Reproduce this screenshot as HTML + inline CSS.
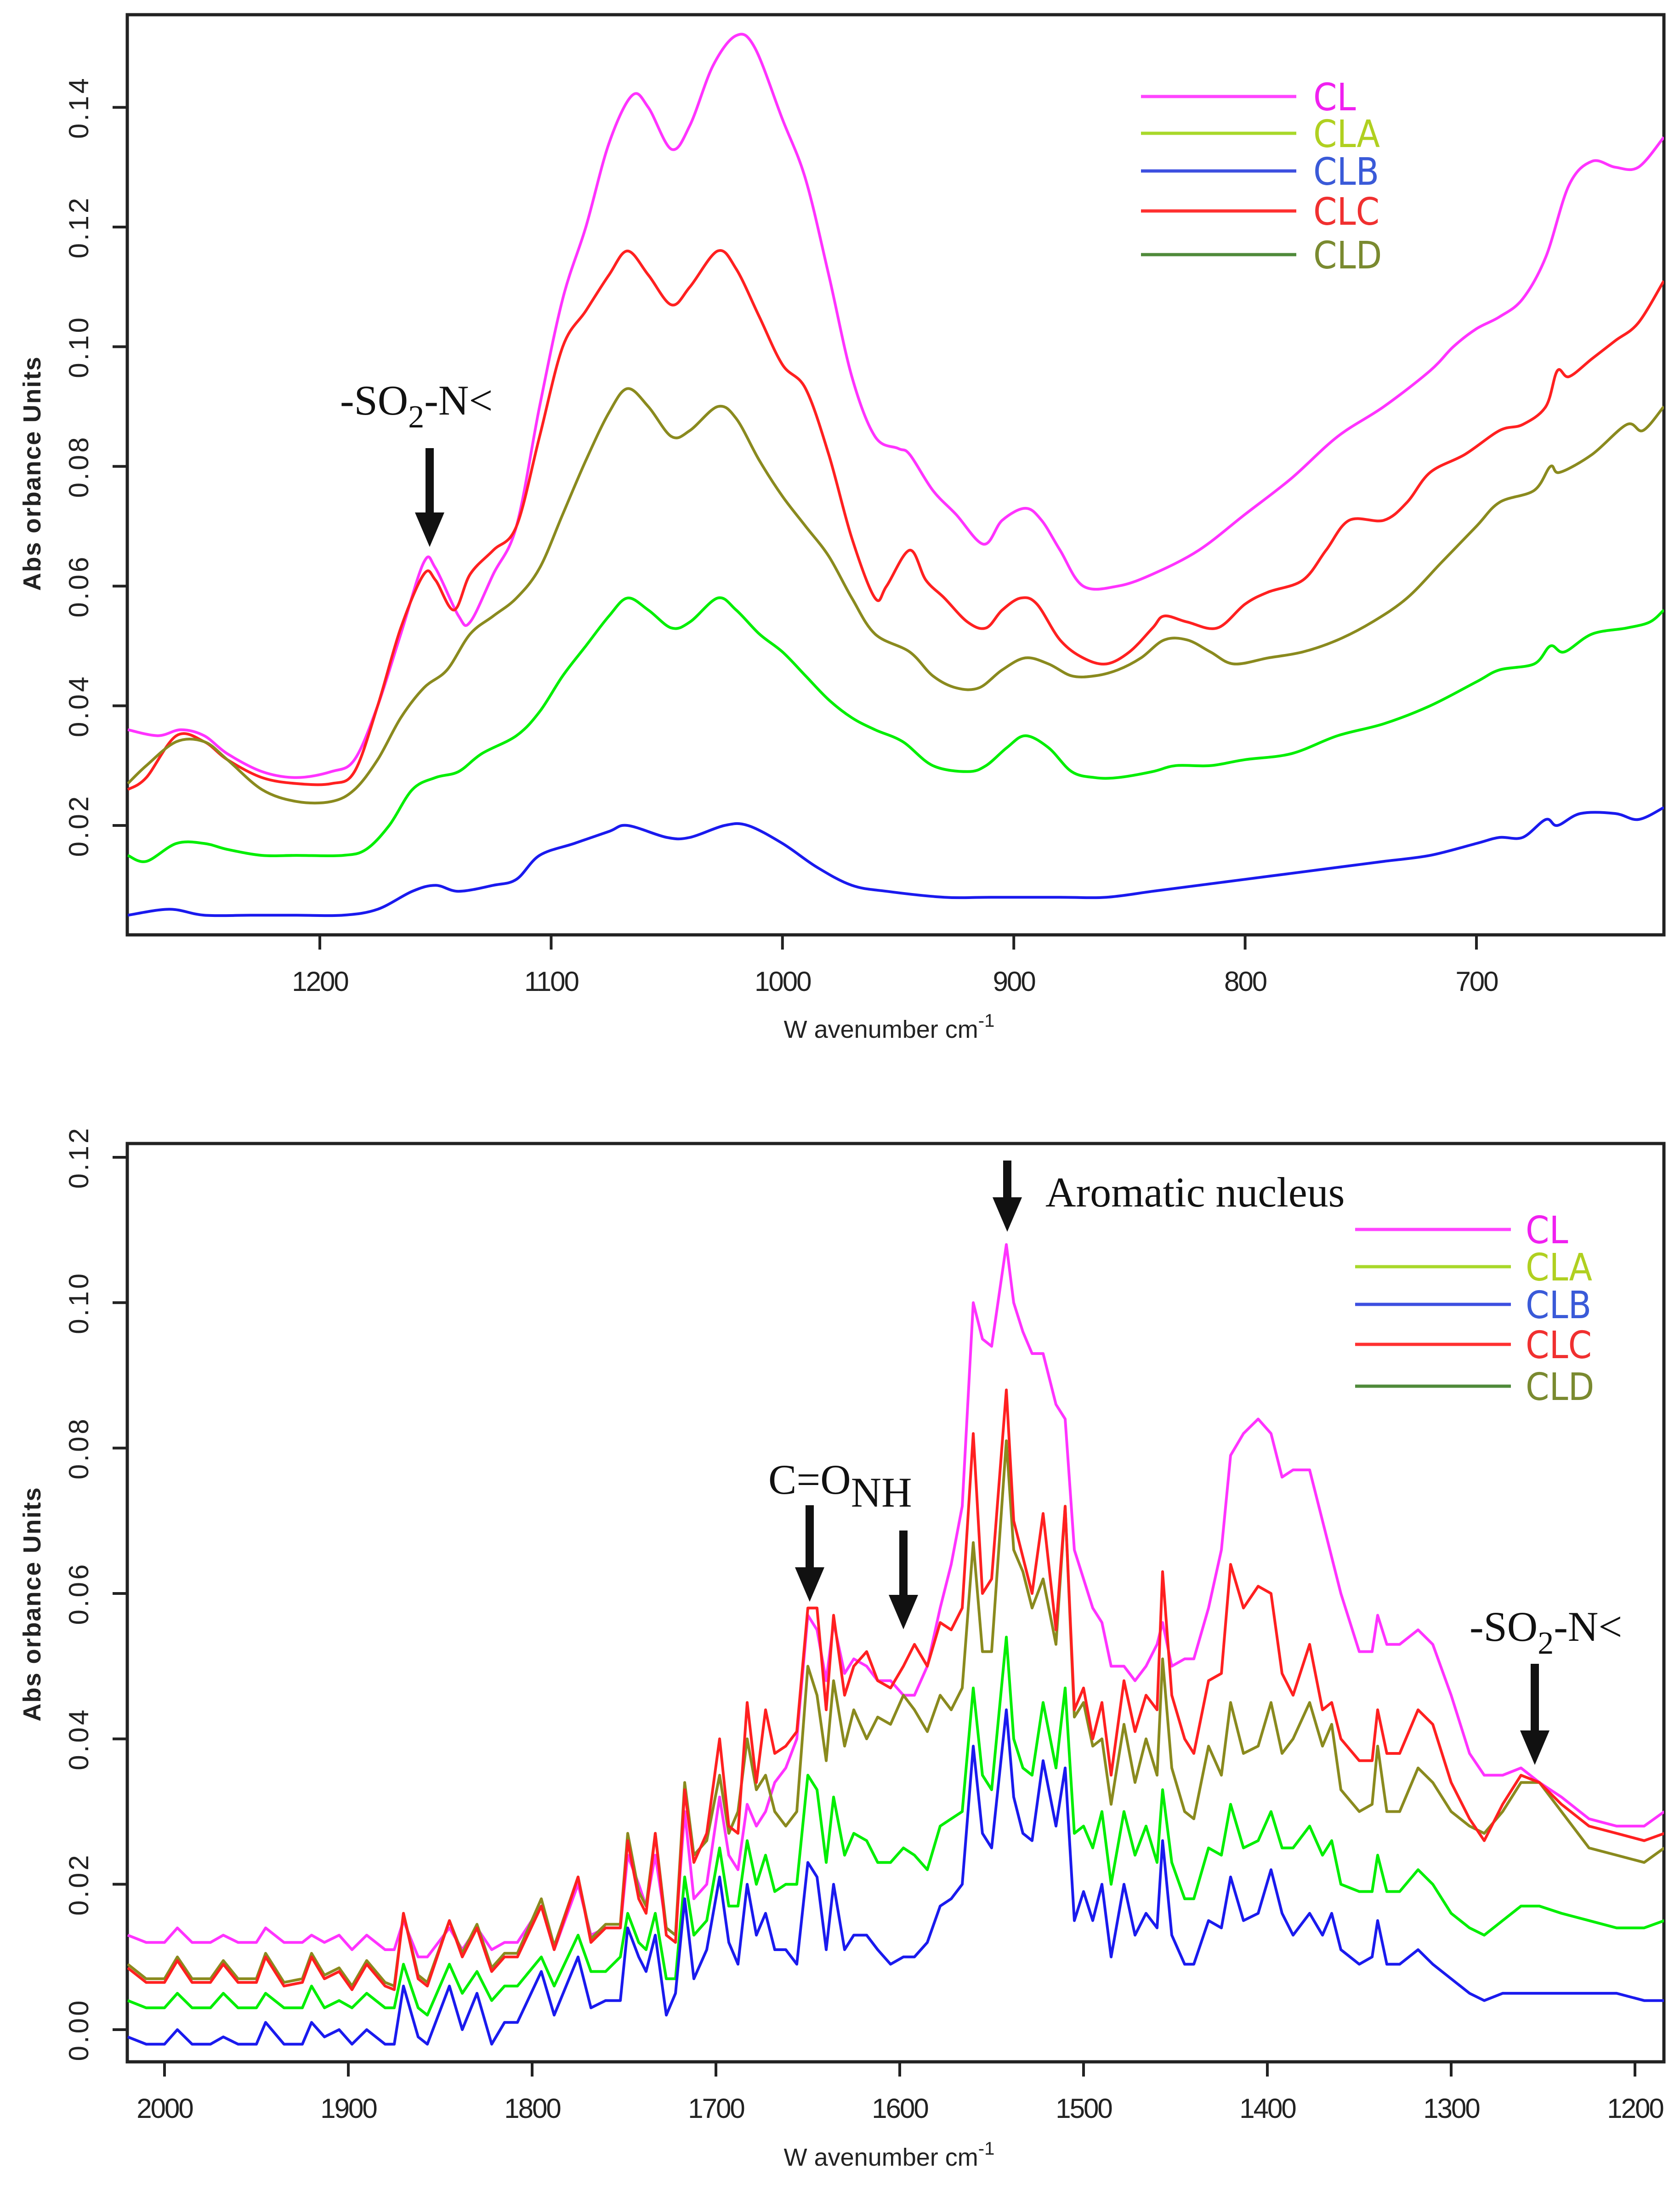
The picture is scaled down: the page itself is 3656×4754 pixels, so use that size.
<!DOCTYPE html>
<html><head><meta charset="utf-8"><title>FTIR spectra</title>
<style>
html,body{margin:0;padding:0;background:#fff;}
svg{display:block;}
.tick{font-family:"Liberation Sans",sans-serif;font-size:60px;fill:#222;}
.ttl{font-family:"Liberation Sans",sans-serif;font-size:54px;fill:#222;}
.leg{font-family:"DejaVu Sans Condensed","DejaVu Sans",sans-serif;font-size:82px;}
.ann{font-family:"Liberation Serif",serif;font-size:92px;fill:#111;}
</style></head>
<body>
<svg id="fig" width="3656" height="4754" viewBox="0 0 3656 4754" xmlns="http://www.w3.org/2000/svg">
<defs>
<clipPath id="clipTop"><rect x="277" y="32" width="3344" height="2002"/></clipPath>
<clipPath id="clipBot"><rect x="277" y="2488" width="3344" height="1998"/></clipPath>
</defs>
<g id="top"></g>
<g id="bot"></g>
</svg>
<script>
// ---------- TOP CHART DATA ----------
const topXTicks = [1200,1100,1000,900,800,700];
const topYTicks = [0.02,0.04,0.06,0.08,0.10,0.12,0.14];
const topYLabels = ["0.02","0.04","0.06","0.08","0.10","0.12","0.14"];
const topCLw = [1283,1270,1260,1250,1240,1225,1210,1195,1185,1175,1165,1155,1150,1140,1135,1125,1115,1105,1095,1085,1075,1065,1058,1048,1040,1030,1020,1012,1000,990,980,970,960,950,945,935,925,913,905,895,888,880,870,855,840,820,800,780,760,740,720,710,700,690,680,670,660,650,640,630,619];
const topCLv = [0.036,0.035,0.036,0.035,0.032,0.029,0.028,0.029,0.031,0.040,0.052,0.064,0.063,0.055,0.054,0.062,0.070,0.090,0.108,0.120,0.134,0.142,0.140,0.133,0.137,0.147,0.152,0.150,0.138,0.128,0.112,0.095,0.085,0.083,0.082,0.076,0.072,0.067,0.071,0.073,0.071,0.066,0.060,0.060,0.062,0.066,0.072,0.078,0.085,0.090,0.096,0.100,0.103,0.105,0.108,0.115,0.127,0.131,0.130,0.130,0.135];
const topCLCw = [1283,1275,1262,1250,1240,1225,1210,1195,1185,1175,1165,1155,1150,1142,1135,1125,1115,1105,1095,1085,1075,1067,1058,1048,1040,1028,1020,1010,1000,990,980,970,960,955,945,938,930,920,912,905,897,890,880,870,860,850,840,835,825,812,800,790,775,765,755,740,730,720,705,690,680,670,665,660,650,640,630,619];
const topCLCv = [0.026,0.028,0.035,0.034,0.031,0.028,0.027,0.027,0.029,0.040,0.053,0.062,0.061,0.056,0.062,0.066,0.070,0.085,0.100,0.106,0.112,0.116,0.112,0.107,0.110,0.116,0.113,0.105,0.097,0.093,0.082,0.068,0.058,0.060,0.066,0.061,0.058,0.054,0.053,0.056,0.058,0.057,0.051,0.048,0.047,0.049,0.053,0.055,0.054,0.053,0.057,0.059,0.061,0.066,0.071,0.071,0.074,0.079,0.082,0.086,0.087,0.090,0.096,0.095,0.098,0.101,0.104,0.111];
const topCLDw = [1283,1275,1262,1250,1240,1225,1210,1195,1185,1175,1165,1155,1145,1135,1125,1115,1105,1095,1085,1075,1067,1058,1048,1040,1028,1020,1010,1000,990,980,970,960,945,935,925,915,905,895,885,875,865,855,845,835,825,815,805,790,775,760,745,730,715,700,690,675,668,664,650,635,628,619];
const topCLDv = [0.027,0.030,0.034,0.034,0.031,0.026,0.024,0.024,0.026,0.031,0.038,0.043,0.046,0.052,0.055,0.058,0.063,0.072,0.081,0.089,0.093,0.090,0.085,0.086,0.090,0.088,0.081,0.075,0.070,0.065,0.058,0.052,0.049,0.045,0.043,0.043,0.046,0.048,0.047,0.045,0.045,0.046,0.048,0.051,0.051,0.049,0.047,0.048,0.049,0.051,0.054,0.058,0.064,0.070,0.074,0.076,0.080,0.079,0.082,0.087,0.086,0.090];
const topCLAw = [1283,1275,1262,1250,1240,1225,1210,1190,1180,1170,1160,1150,1140,1130,1115,1105,1095,1085,1075,1067,1058,1048,1040,1028,1020,1010,1000,990,980,970,960,948,935,920,912,903,895,885,875,865,855,840,830,815,800,780,760,740,720,700,690,675,668,662,650,635,625,619];
const topCLAv = [0.015,0.014,0.017,0.017,0.016,0.015,0.015,0.015,0.016,0.020,0.026,0.028,0.029,0.032,0.035,0.039,0.045,0.050,0.055,0.058,0.056,0.053,0.054,0.058,0.056,0.052,0.049,0.045,0.041,0.038,0.036,0.034,0.030,0.029,0.030,0.033,0.035,0.033,0.029,0.028,0.028,0.029,0.030,0.030,0.031,0.032,0.035,0.037,0.040,0.044,0.046,0.047,0.050,0.049,0.052,0.053,0.054,0.056];
const topCLBw = [1283,1265,1250,1230,1210,1190,1175,1160,1150,1140,1125,1115,1105,1090,1075,1067,1050,1040,1025,1015,1000,985,970,955,930,910,880,860,840,820,800,780,760,740,720,700,690,680,670,665,655,640,630,619];
const topCLBv = [0.005,0.006,0.005,0.005,0.005,0.005,0.006,0.009,0.010,0.009,0.010,0.011,0.015,0.017,0.019,0.020,0.018,0.018,0.020,0.020,0.017,0.013,0.010,0.009,0.008,0.008,0.008,0.008,0.009,0.010,0.011,0.012,0.013,0.014,0.015,0.017,0.018,0.018,0.021,0.020,0.022,0.022,0.021,0.023];

// ---------- BOTTOM CHART DATA ----------
const botXTicks = [2000,1900,1800,1700,1600,1500,1400,1300,1200];
const botYTicks = [0.00,0.02,0.04,0.06,0.08,0.10,0.12];
const botYLabels = ["0.00","0.02","0.04","0.06","0.08","0.10","0.12"];
const botW = [2020,2010,2000,1993,1985,1975,1968,1960,1950,1945,1935,1925,1920,1913,1905,1898,1890,1880,1875,1870,1862,1857,1845,1838,1830,1822,1815,1808,1795,1788,1775,1768,1760,1752,1748,1742,1738,1733,1727,1722,1717,1712,1705,1698,1693,1688,1683,1678,1673,1668,1662,1656,1650,1645,1640,1636,1630,1625,1618,1612,1605,1598,1592,1585,1578,1572,1566,1560,1555,1550,1542,1538,1533,1528,1522,1515,1510,1505,1500,1495,1490,1485,1478,1472,1466,1460,1457,1452,1445,1440,1432,1425,1420,1413,1405,1398,1392,1386,1377,1370,1365,1360,1350,1343,1340,1335,1328,1318,1310,1300,1290,1282,1272,1262,1252,1240,1225,1210,1195,1184];
const botCLv = [0.013,0.012,0.012,0.014,0.012,0.012,0.013,0.012,0.012,0.014,0.012,0.012,0.013,0.012,0.013,0.011,0.013,0.011,0.011,0.015,0.010,0.010,0.014,0.011,0.014,0.011,0.012,0.012,0.017,0.011,0.020,0.013,0.014,0.014,0.024,0.020,0.017,0.024,0.014,0.013,0.030,0.018,0.020,0.032,0.024,0.022,0.031,0.028,0.030,0.034,0.036,0.040,0.057,0.055,0.048,0.056,0.049,0.051,0.050,0.048,0.048,0.046,0.046,0.050,0.058,0.064,0.072,0.100,0.095,0.094,0.108,0.100,0.096,0.093,0.093,0.086,0.084,0.066,0.062,0.058,0.056,0.050,0.050,0.048,0.050,0.053,0.056,0.050,0.051,0.051,0.058,0.066,0.079,0.082,0.084,0.082,0.076,0.077,0.077,0.070,0.065,0.060,0.052,0.052,0.057,0.053,0.053,0.055,0.053,0.046,0.038,0.035,0.035,0.036,0.034,0.032,0.029,0.028,0.028,0.030];
const botCLCv = [0.0085,0.0065,0.0065,0.0095,0.0065,0.0065,0.009,0.0065,0.0065,0.010,0.006,0.0065,0.010,0.007,0.008,0.0055,0.009,0.006,0.0055,0.016,0.007,0.006,0.015,0.010,0.014,0.008,0.010,0.010,0.017,0.011,0.021,0.012,0.014,0.014,0.026,0.018,0.016,0.027,0.013,0.012,0.033,0.023,0.027,0.040,0.028,0.027,0.045,0.034,0.044,0.038,0.039,0.041,0.058,0.058,0.044,0.057,0.046,0.050,0.052,0.048,0.047,0.050,0.053,0.050,0.056,0.055,0.058,0.082,0.060,0.062,0.088,0.070,0.065,0.060,0.071,0.055,0.072,0.044,0.047,0.040,0.045,0.035,0.048,0.041,0.046,0.044,0.063,0.046,0.040,0.038,0.048,0.049,0.064,0.058,0.061,0.060,0.049,0.046,0.053,0.044,0.045,0.040,0.037,0.037,0.044,0.038,0.038,0.044,0.042,0.034,0.029,0.026,0.031,0.035,0.034,0.031,0.028,0.027,0.026,0.027];
const botCLDv = [0.009,0.007,0.007,0.010,0.007,0.007,0.0095,0.007,0.007,0.0105,0.0065,0.007,0.0105,0.0075,0.0085,0.006,0.0095,0.0065,0.006,0.016,0.0075,0.0065,0.015,0.0105,0.0145,0.0085,0.0105,0.0105,0.018,0.0115,0.021,0.0125,0.0145,0.0145,0.027,0.019,0.017,0.027,0.014,0.013,0.034,0.024,0.026,0.035,0.027,0.030,0.040,0.033,0.035,0.030,0.028,0.030,0.050,0.046,0.037,0.048,0.039,0.044,0.040,0.043,0.042,0.046,0.044,0.041,0.046,0.044,0.047,0.067,0.052,0.052,0.081,0.066,0.063,0.058,0.062,0.053,0.072,0.043,0.045,0.039,0.040,0.031,0.042,0.034,0.040,0.035,0.051,0.036,0.030,0.029,0.039,0.035,0.045,0.038,0.039,0.045,0.038,0.040,0.045,0.039,0.042,0.033,0.030,0.031,0.039,0.030,0.030,0.036,0.034,0.030,0.028,0.027,0.030,0.034,0.034,0.030,0.025,0.024,0.023,0.025];
const botCLAv = [0.004,0.003,0.003,0.005,0.003,0.003,0.005,0.003,0.003,0.005,0.003,0.003,0.006,0.003,0.004,0.003,0.005,0.003,0.003,0.009,0.003,0.002,0.009,0.005,0.008,0.004,0.006,0.006,0.010,0.006,0.013,0.008,0.008,0.010,0.016,0.012,0.011,0.016,0.007,0.007,0.021,0.013,0.015,0.025,0.017,0.017,0.026,0.020,0.024,0.019,0.020,0.020,0.035,0.033,0.023,0.032,0.024,0.027,0.026,0.023,0.023,0.025,0.024,0.022,0.028,0.029,0.030,0.047,0.035,0.033,0.054,0.040,0.036,0.035,0.045,0.036,0.047,0.027,0.028,0.025,0.030,0.020,0.030,0.024,0.028,0.023,0.033,0.023,0.018,0.018,0.025,0.024,0.031,0.025,0.026,0.030,0.025,0.025,0.028,0.024,0.026,0.020,0.019,0.019,0.024,0.019,0.019,0.022,0.020,0.016,0.014,0.013,0.015,0.017,0.017,0.016,0.015,0.014,0.014,0.015];
const botCLBv = [-0.001,-0.002,-0.002,0.000,-0.002,-0.002,-0.001,-0.002,-0.002,0.001,-0.002,-0.002,0.001,-0.001,0.000,-0.002,0.000,-0.002,-0.002,0.006,-0.001,-0.002,0.006,0.000,0.005,-0.002,0.001,0.001,0.008,0.002,0.010,0.003,0.004,0.004,0.014,0.010,0.008,0.013,0.002,0.005,0.018,0.007,0.011,0.021,0.012,0.009,0.020,0.013,0.016,0.011,0.011,0.009,0.023,0.021,0.011,0.020,0.011,0.013,0.013,0.011,0.009,0.010,0.010,0.012,0.017,0.018,0.020,0.039,0.027,0.025,0.044,0.032,0.027,0.026,0.037,0.028,0.036,0.015,0.019,0.015,0.020,0.010,0.020,0.013,0.016,0.014,0.026,0.013,0.009,0.009,0.015,0.014,0.021,0.015,0.016,0.022,0.016,0.013,0.016,0.013,0.016,0.011,0.009,0.010,0.015,0.009,0.009,0.011,0.009,0.007,0.005,0.004,0.005,0.005,0.005,0.005,0.005,0.005,0.004,0.004];

const legendNames = ["CL","CLA","CLB","CLC","CLD"];
const NS = "http://www.w3.org/2000/svg";

function mk(tag, attrs, parent){
  const e = document.createElementNS(NS, tag);
  for (const k in attrs) e.setAttribute(k, attrs[k]);
  parent.appendChild(e);
  return e;
}

const topX = w => 696 + (1200 - w) * 5.034;
const topY = v => 1796 - (v - 0.02) * 13020;
const botX = w => 3558 + (1200 - w) * 4;
const botY = v => 4416 - v * 15817;

function pathD(ws, vs, fx, fy){
  let d = "";
  for (let i = 0; i < ws.length; i++) d += (i ? "L" : "M") + fx(ws[i]).toFixed(1) + " " + fy(vs[i]).toFixed(1);
  return d;
}
function smoothD(ws, vs, fx, fy){
  const P = ws.map((w, i) => [fx(w), fy(vs[i])]);
  let d = "M" + P[0][0].toFixed(1) + " " + P[0][1].toFixed(1);
  for (let i = 0; i < P.length - 1; i++){
    const p0 = P[Math.max(0, i-1)], p1 = P[i], p2 = P[i+1], p3 = P[Math.min(P.length-1, i+2)];
    const c1x = p1[0] + (p2[0]-p0[0])/6, c1y = p1[1] + (p2[1]-p0[1])/6;
    const c2x = p2[0] - (p3[0]-p1[0])/6, c2y = p2[1] - (p3[1]-p1[1])/6;
    d += "C" + c1x.toFixed(1) + " " + c1y.toFixed(1) + " " + c2x.toFixed(1) + " " + c2y.toFixed(1) + " " + p2[0].toFixed(1) + " " + p2[1].toFixed(1);
  }
  return d;
}

function drawChart(g, o){
  const fr = mk("rect", {x:277, y:o.top, width:3344, height:o.bottom-o.top, fill:"none", stroke:"#222", "stroke-width":7}, g);
  
  
  o.xTicks.forEach(t => {
    const x = o.fx(t);
    const tk = mk("line", {x1:x, y1:o.bottom, x2:x, y2:o.bottom+32, stroke:"#222", "stroke-width":6}, g);
    
    
    const tl = mk("text", {x:x, y:o.bottom+122, "text-anchor":"middle", class:"tick", "letter-spacing":"-3"}, g);
    tl.textContent = String(t);
    
    
  });
  o.yTicks.forEach((t, i) => {
    const y = o.fy(t);
    const tk = mk("line", {x1:277, y1:y, x2:245, y2:y, stroke:"#222", "stroke-width":6}, g);
    
    
    const tl = mk("text", {x:0, y:0, "text-anchor":"middle", class:"tick", "letter-spacing":"5", transform:"translate(192," + y + ") rotate(-90)"}, g);
    tl.textContent = o.yLabels[i];
    
    
  });
  const yt = mk("text", {x:0, y:0, "text-anchor":"middle", class:"ttl", "font-weight":"bold", "letter-spacing":"2", transform:"translate(88," + o.yTitleY + ") rotate(-90)"}, g);
  yt.textContent = "Abs orbance Units";
  
  
  const xt = mk("text", {x:1935, y:o.xTitleY, "text-anchor":"middle", class:"ttl"}, g);
  xt.innerHTML = 'W avenumber cm<tspan dy="-24" font-size="40">-1</tspan>';
  
  
  const sg = mk("g", {"clip-path":"url(#" + o.clip + ")"}, g);
  
  
  o.series.forEach(s => {
    const d = o.smooth ? smoothD(s.w, s.v, o.fx, o.fy) : pathD(s.w, s.v, o.fx, o.fy);
    const p = mk("path", {d:d, fill:"none", stroke:s.c, "stroke-width":6, "stroke-linejoin":"round"}, sg);
    
    
  });
  const lineCols = ["#ff44ff","#a8d82a","#3d4fe0","#ff3030","#4f8a3a"];
  const txtCols = ["#f020f0","#b0d020","#3a5ad8","#f03030","#7a8a30"];
  legendNames.forEach((n, i) => {
    const y = o.legY[i];
    const ln = mk("line", {x1:o.legX1, y1:y, x2:o.legX2, y2:y, stroke:lineCols[i], "stroke-width":7}, g);
    
    
    const tx = mk("text", {x:o.legTX, y:y+30, class:"leg", fill:txtCols[i]}, g);
    tx.textContent = n;
    
    
  });
}

function arrow(g, x, y1, y2, name){
  const a = mk("g", {}, g);
  
  
  mk("line", {x1:x, y1:y1, x2:x, y2:y2-55, stroke:"#111", "stroke-width":18}, a);
  mk("polygon", {points:(x-32)+","+(y2-75)+" "+(x+32)+","+(y2-75)+" "+x+","+y2, fill:"#111"}, a);
}
function label(g, x, y, html, name){
  const t = mk("text", {x:x, y:y, class:"ann"}, g);
  t.innerHTML = html;
  
  
}

const gTop = document.getElementById("top");
drawChart(gTop, {top:32, bottom:2034, fx:topX, fy:topY, xTicks:topXTicks, yTicks:topYTicks, yLabels:topYLabels,
  yTitleY:1030, xTitleY:2258, clip:"clipTop", smooth:true,
  legX1:2483, legX2:2821, legTX:2858, legY:[210,290,372,459,554],
  series:[
    {name:"cl-line", w:topCLw, v:topCLv, c:"#ff33ff"},
    {name:"clc-line", w:topCLCw, v:topCLCv, c:"#ff2020"},
    {name:"cld-line", w:topCLDw, v:topCLDv, c:"#8a8a1e"},
    {name:"cla-line", w:topCLAw, v:topCLAv, c:"#00ee00"},
    {name:"clb-line", w:topCLBw, v:topCLBv, c:"#1a1aee"}
  ]});
label(gTop, 740, 902, '-SO<tspan dy="28" font-size="70">2</tspan><tspan dy="-28">-N&lt;</tspan>', "so2n-annotation-top");
arrow(gTop, 935, 975, 1190, "so2n-arrow-top");

const gBot = document.getElementById("bot");
drawChart(gBot, {top:2488, bottom:4486, fx:botX, fy:botY, xTicks:botXTicks, yTicks:botYTicks, yLabels:botYLabels,
  yTitleY:3490, xTitleY:4712, clip:"clipBot", smooth:false,
  legX1:2949, legX2:3288, legTX:3320, legY:[2675,2756,2838,2925,3016],
  series:[
    {name:"cl-line", w:botW, v:botCLv, c:"#ff33ff"},
    {name:"cld-line", w:botW, v:botCLDv, c:"#8a8a1e"},
    {name:"clc-line", w:botW, v:botCLCv, c:"#ff2020"},
    {name:"cla-line", w:botW, v:botCLAv, c:"#00ee00"},
    {name:"clb-line", w:botW, v:botCLBv, c:"#1a1aee"}
  ]});
label(gBot, 2275, 2625, 'Aromatic nucleus', "aromatic-nucleus-annotation");
arrow(gBot, 2192, 2525, 2680, "aromatic-arrow");
label(gBot, 1672, 3250, 'C=O<tspan dy="28">NH</tspan>', "co-nh-annotation");
arrow(gBot, 1762, 3275, 3485, "co-arrow");
arrow(gBot, 1966, 3330, 3545, "nh-arrow");
label(gBot, 3198, 3570, '-SO<tspan dy="28" font-size="70">2</tspan><tspan dy="-28">-N&lt;</tspan>', "so2n-annotation-bottom");
arrow(gBot, 3340, 3620, 3840, "so2n-arrow-bottom");
</script>
</body></html>
